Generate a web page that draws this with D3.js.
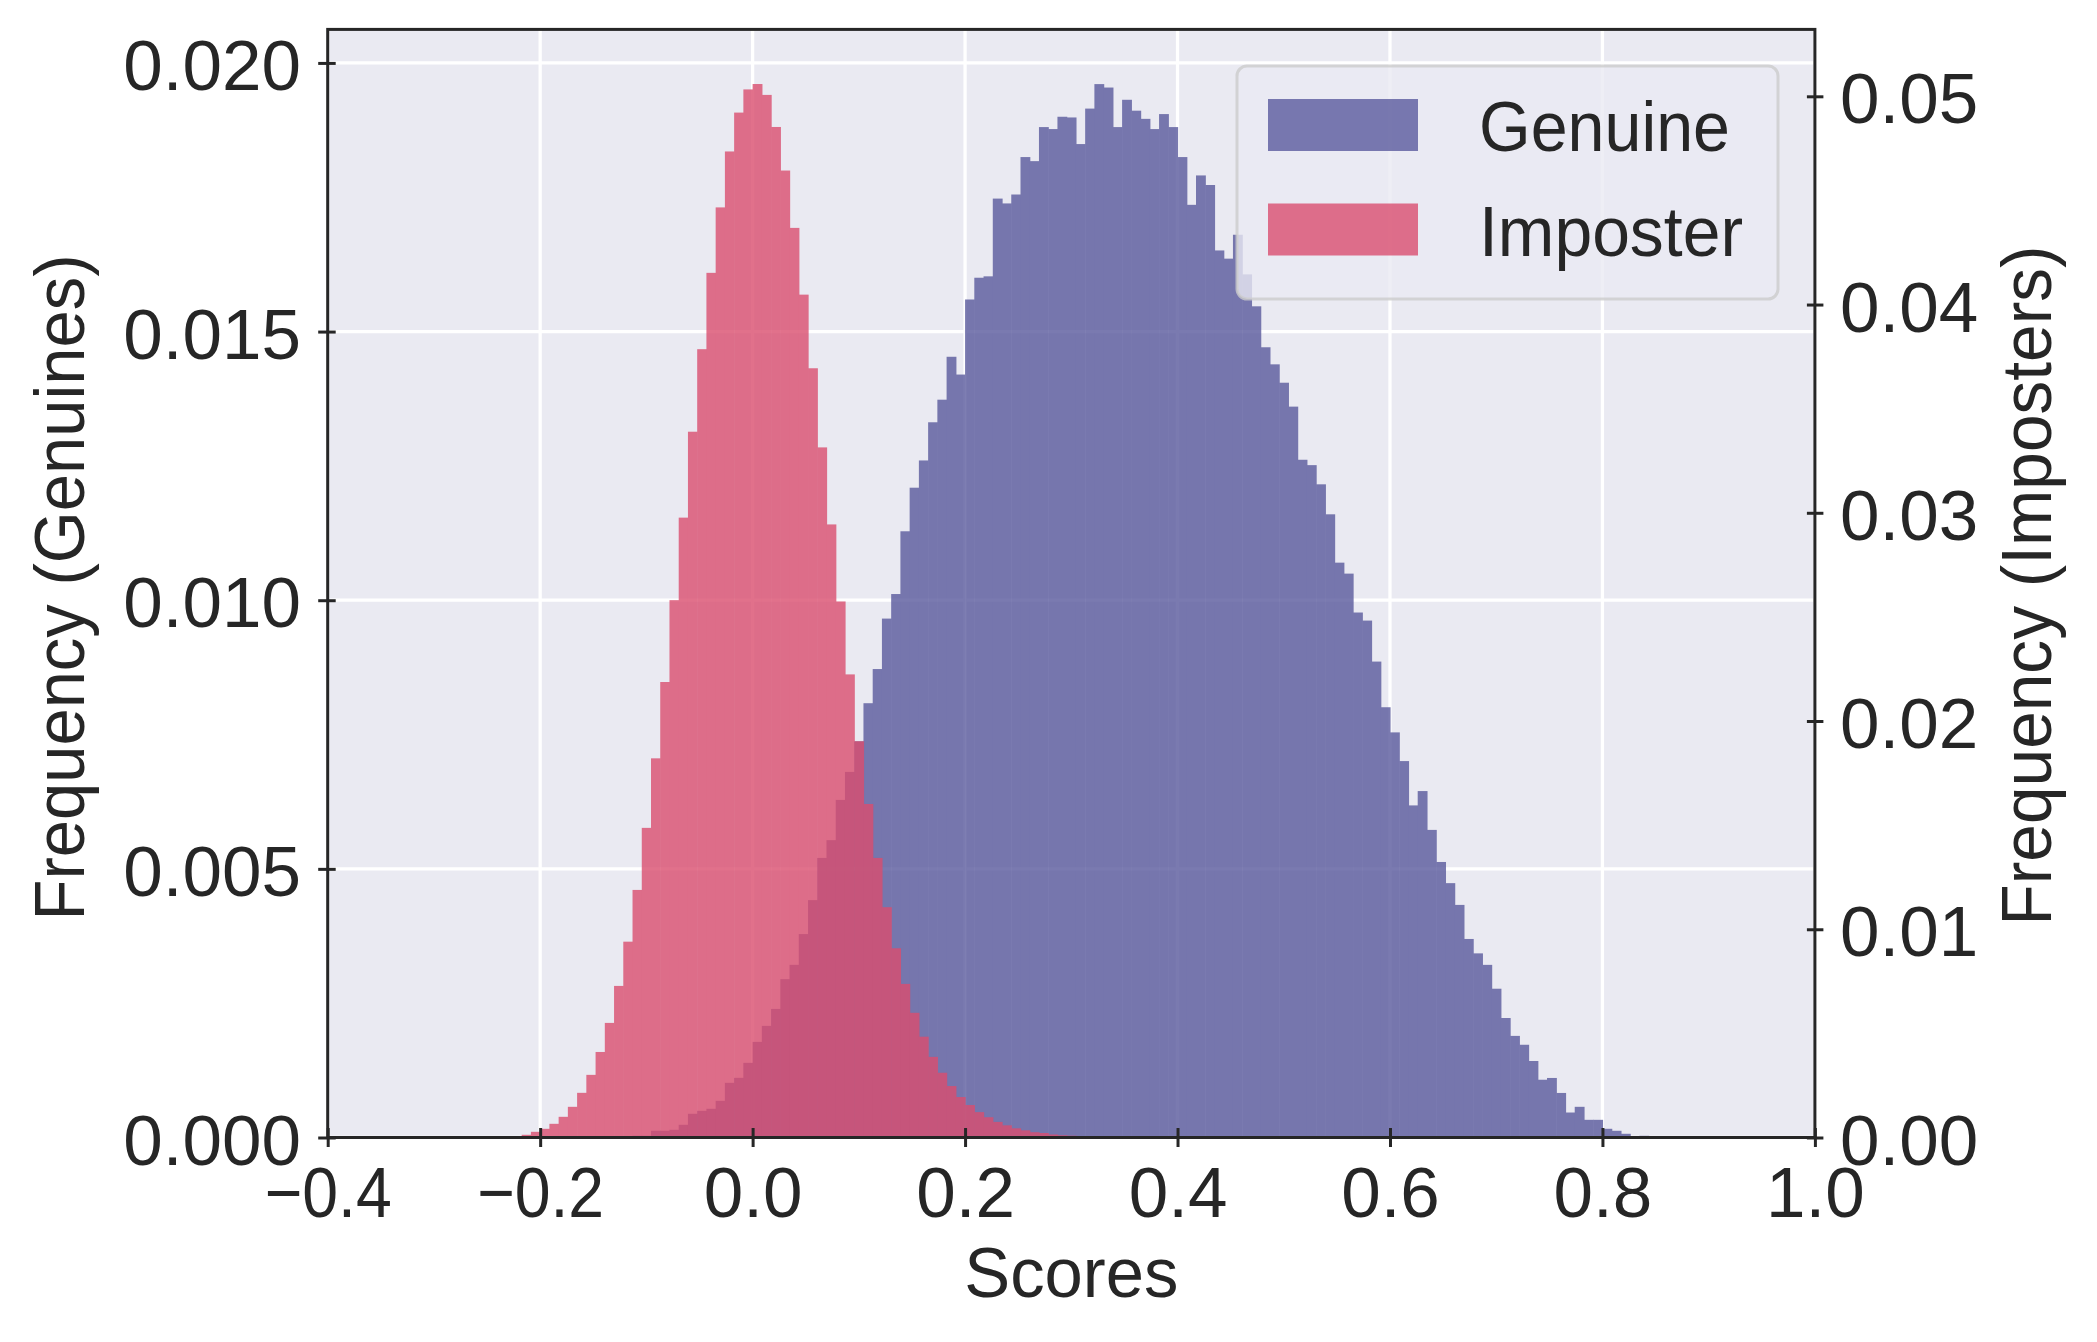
<!DOCTYPE html>
<html><head><meta charset="utf-8">
<script src="https://cdn.jsdelivr.net/npm/d3@7"></script>
<style>
body{margin:0;background:#fff;}
text{font-family:"Liberation Sans",Arial,Helvetica,sans-serif;fill:#262626;}
</style>
</head><body>
<svg id="chart" width="2097" height="1342"></svg>
<script>
// ---------------- data ----------------
const binWidth = 2 / 230;            // histogram bin width (scores)
const genuineFirstBin = -14;         // index of first genuine bin (bin k starts at k*binWidth)
const genuineFreq = [
  0.000013,0.000032,0.000032,0.000125,0.000125,0.000143,0.000236,0.000441,0.000496,0.000534,
  0.000682,0.001017,0.001110,0.001389,0.001779,0.002077,0.002393,0.002947,0.003213,0.003786,
  0.004418,0.005203,0.005534,0.006283,0.006804,0.007374,0.008083,0.008719,0.009658,0.010115,
  0.011283,0.012094,0.012601,0.013312,0.013732,0.014531,0.014200,0.015597,0.016002,0.016028,
  0.017475,0.017385,0.017551,0.018248,0.018172,0.018806,0.018769,0.018998,0.018985,0.018490,
  0.019150,0.019606,0.019542,0.018806,0.019314,0.019111,0.018959,0.018769,0.019048,0.018806,
  0.018248,0.017359,0.017906,0.017728,0.016510,0.016357,0.016802,0.016065,0.015470,0.014708,
  0.014390,0.014048,0.013603,0.012614,0.012514,0.012157,0.011599,0.010699,0.010495,0.009771,
  0.009621,0.008858,0.008008,0.007540,0.007006,0.006181,0.006448,0.005725,0.005128,0.004734,
  0.004329,0.003695,0.003427,0.003213,0.002769,0.002224,0.001891,0.001726,0.001424,0.001075,
  0.001108,0.000829,0.000465,0.000571,0.000329,0.000329,0.000162,0.000125,0.000069,0.000013,
  0.000032,0.000013
];
const imposterFirstBin = -26;
const imposterFreq = [
  0.000034,0.000130,0.000273,0.000417,0.000657,0.000993,0.001473,0.002145,0.003008,0.004107,
  0.005503,0.007279,0.009404,0.011889,0.014869,0.018208,0.021874,0.025804,0.029767,0.033893,
  0.037856,0.041522,0.044665,0.047351,0.049218,0.050331,0.050590,0.050067,0.048527,0.046435,
  0.043681,0.040476,0.036940,0.033140,0.029441,0.025741,0.022239,0.019029,0.016016,0.013425,
  0.011059,0.009087,0.007375,0.005988,0.004841,0.003872,0.003109,0.002471,0.001943,0.001559,
  0.001219,0.000974,0.000748,0.000585,0.000441,0.000345,0.000254,0.000216,0.000144,0.000106,
  0.000086,0.000062,0.000048,0.000034,0.000019
];
const seriesNames = ["Genuine", "Imposter"];
const xTicks = [-0.4, -0.2, 0.0, 0.2, 0.4, 0.6, 0.8, 1.0];
const leftTicks = [0.000, 0.005, 0.010, 0.015, 0.020];
const rightTicks = [0.00, 0.01, 0.02, 0.03, 0.04, 0.05];
const xDomain = [-0.4, 1.0];
const leftDomain = [0, 0.020624];
const rightDomain = [0, 0.053213];
const xTitle = "Scores";
const leftTitle = "Frequency (Genuines)";
const rightTitle = "Frequency (Imposters)";

// ---------------- layout ----------------
const P = {left: 327.7, right: 1814.9, top: 29.4, bottom: 1137.5};
const FS = 71;
const ink = "#262626";
const genuineColor = "#5a5a9d";
const imposterColor = "#da4e6f";
const barAlpha = 0.8;

const svg = d3.select("#chart");
const x = d3.scaleLinear().domain(xDomain).range([P.left, P.right]);
const yL = d3.scaleLinear().domain(leftDomain).range([P.bottom, P.top]);
const yR = d3.scaleLinear().domain(rightDomain).range([P.bottom, P.top]);

// background
svg.append("rect").attr("x", P.left).attr("y", P.top)
  .attr("width", P.right - P.left).attr("height", P.bottom - P.top)
  .attr("fill", "#eaeaf2");

// grid
const grid = svg.append("g").attr("stroke", "#ffffff").attr("stroke-width", 3.3);
grid.selectAll("line.v").data(xTicks).join("line").attr("class", "v")
  .attr("x1", d => x(d)).attr("x2", d => x(d)).attr("y1", P.top).attr("y2", P.bottom);
grid.selectAll("line.h").data(leftTicks).join("line").attr("class", "h")
  .attr("x1", P.left).attr("x2", P.right).attr("y1", d => yL(d)).attr("y2", d => yL(d));

// bars
function drawBars(freq, first, yScale, color) {
  const data = freq.map((v, i) => ({x0: (first + i) * binWidth, v}));
  const g = svg.append("g").attr("opacity", barAlpha);
  g.selectAll("rect").data(data).join("rect")
    .attr("x", d => x(d.x0))
    .attr("width", d => x(d.x0 + binWidth) - x(d.x0) + 0.6)
    .attr("y", d => yScale(d.v))
    .attr("height", d => yScale(0) - yScale(d.v))
    .attr("fill", color);
}
drawBars(genuineFreq, genuineFirstBin, yL, genuineColor);
drawBars(imposterFreq, imposterFirstBin, yR, imposterColor);

// legend
const lg = svg.append("g");
lg.append("rect").attr("x", 1237).attr("y", 66).attr("width", 541).attr("height", 233)
  .attr("rx", 10).attr("fill", "#eaeaf2").attr("fill-opacity", 0.8)
  .attr("stroke", "#cccccc").attr("stroke-opacity", 0.8).attr("stroke-width", 3);
const legendColors = [genuineColor, imposterColor];
const legendWidths = [251, 264];
seriesNames.forEach((name, i) => {
  const yTop = 99 + i * 104.5;
  lg.append("rect").attr("x", 1268).attr("y", yTop).attr("width", 150).attr("height", 52)
    .attr("fill", legendColors[i]).attr("opacity", barAlpha);
  lg.append("text").attr("x", 1479).attr("y", yTop + 52).attr("font-size", FS)
    .attr("textLength", legendWidths[i]).attr("lengthAdjust", "spacingAndGlyphs")
    .text(name);
});

// spines
svg.append("rect").attr("x", P.left).attr("y", P.top)
  .attr("width", P.right - P.left).attr("height", P.bottom - P.top)
  .attr("fill", "none").attr("stroke", ink).attr("stroke-width", 3);

// axes
function styleAxis(g) {
  g.select(".domain").remove();
  g.selectAll(".tick line").attr("stroke", ink).attr("stroke-width", 3);
  g.selectAll(".tick text").attr("font-size", FS).attr("fill", ink)
    .attr("font-family", '"Liberation Sans",Arial,Helvetica,sans-serif').attr("dy", null);
}
const gx = svg.append("g").attr("transform", `translate(0,${P.bottom})`)
  .call(d3.axisBottom(x).tickValues(xTicks).tickFormat(d3.format(".1f")).tickSize(9.5));
styleAxis(gx);
gx.selectAll(".tick line").attr("y1", -9.5).attr("y2", 9.5);
gx.selectAll(".tick text").attr("y", 79)
  .each(function(d) {
    if (d < 0) d3.select(this).attr("textLength", 127).attr("lengthAdjust", "spacingAndGlyphs");
  });

const gl = svg.append("g").attr("transform", `translate(${P.left},0)`)
  .call(d3.axisLeft(yL).tickValues(leftTicks).tickFormat(d3.format(".3f")).tickSize(9.5));
styleAxis(gl);
gl.selectAll(".tick line").attr("x1", -9.5).attr("x2", 8);
gl.selectAll(".tick text").attr("x", -26.7).attr("y", 26.5);

const gr = svg.append("g").attr("transform", `translate(${P.right},0)`)
  .call(d3.axisRight(yR).tickValues(rightTicks).tickFormat(d3.format(".2f")).tickSize(8.5));
styleAxis(gr);
gr.selectAll(".tick line").attr("x1", -8).attr("x2", 8.5);
gr.selectAll(".tick text").attr("x", 25.1).attr("y", 26.5);

// titles
svg.append("text").attr("x", (P.left + P.right) / 2).attr("y", 1297)
  .attr("text-anchor", "middle").attr("font-size", FS)
  .attr("textLength", 214).attr("lengthAdjust", "spacingAndGlyphs").text(xTitle);
svg.append("text").attr("transform", `translate(84,${(P.top + P.bottom) / 2 + 4}) rotate(-90)`)
  .attr("text-anchor", "middle").attr("font-size", FS)
  .attr("textLength", 666).attr("lengthAdjust", "spacingAndGlyphs").text(leftTitle);
svg.append("text").attr("transform", `translate(2051,${(P.top + P.bottom) / 2 + 2}) rotate(-90)`)
  .attr("text-anchor", "middle").attr("font-size", FS)
  .attr("textLength", 680).attr("lengthAdjust", "spacingAndGlyphs").text(rightTitle);
</script>
</body></html>
